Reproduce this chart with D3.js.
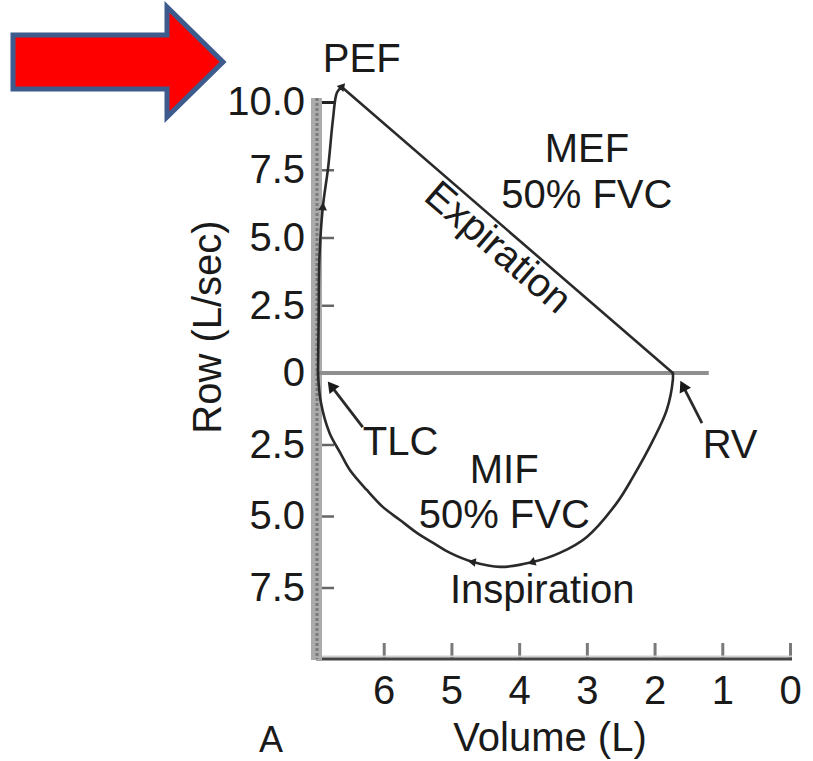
<!DOCTYPE html>
<html>
<head>
<meta charset="utf-8">
<script src="https://cdn.jsdelivr.net/npm/d3@7/dist/d3.min.js"></script>
<style>
  html, body { margin: 0; padding: 0; background: #ffffff; }
  svg { display: block; }
  text { font-family: "Liberation Sans", Arial, Helvetica, sans-serif; fill: #1a1a1a; }
</style>
</head>
<body>
<svg id="chart" width="813" height="761"></svg>
<script>
// ---------------- data ----------------
const xTicks = [6, 5, 4, 3, 2, 1, 0];
const yTicks = [10, 7.5, 5, 2.5, 0, -2.5, -5, -7.5];
const yTickLabels = ["10.0", "7.5", "5.0", "2.5", "0", "2.5", "5.0", "7.5"];

// expiration: rising limb from TLC to PEF (volume L, flow L/sec)
const expRiseX = [6.97, 6.96, 6.95, 6.90, 6.82, 6.75, 6.69, 6.62];
const expRiseY = [0, 2.2, 4.2, 6.1, 7.6, 9.35, 10.35, 10.55];
// expiration: falling limb PEF -> RV
const expFallX = [6.62, 1.73];
const expFallY = [10.55, 0];
// inspiration (drawn TLC -> RV)
const inspX = [6.97, 6.93, 6.80, 6.64, 6.50, 6.25, 6.01, 5.76, 5.51, 5.27, 5.02, 4.68, 4.28, 3.80, 3.40, 3.00, 2.56, 2.32, 2.02, 1.82, 1.73, 1.73];
const inspY = [0, -1.0, -2.1, -2.8, -3.39, -4.09, -4.69, -5.14, -5.59, -5.94, -6.29, -6.61, -6.78, -6.61, -6.29, -5.73, -4.55, -3.64, -2.34, -1.29, -0.24, 0];

// ---------------- layout ----------------
const svg = d3.select("#chart");
const W = 813, H = 761;
svg.append("rect").attr("width", W).attr("height", H).attr("fill", "#ffffff");

const x = d3.scaleLinear().domain([7, 0]).range([316, 790]);
const y = d3.scaleLinear().domain([-10, 0, 10]).range([659, 373, 102]);

const FS = 40;

// ---------------- red arrow (decoration) ----------------
const arrowPts = [[13, 35], [167, 35], [167, 7], [223, 62], [167, 117], [167, 89], [13, 89]];
svg.append("path")
  .attr("d", d3.line()(arrowPts) + "Z")
  .attr("fill", "#ff0000")
  .attr("stroke", "#3d5b8c")
  .attr("stroke-width", 5)
  .attr("stroke-linejoin", "miter");

// ---------------- axes ----------------
const xAxis = d3.axisBottom(x).tickValues(xTicks).tickSizeInner(-16).tickSizeOuter(0).tickPadding(17)
  .tickFormat(d3.format("d"));
const gx = svg.append("g").attr("transform", `translate(0,${y(-10)})`).call(xAxis);
gx.select(".domain").remove();
gx.selectAll(".tick line").attr("stroke", "#7a7a7a").attr("stroke-width", 3);
gx.selectAll(".tick text").attr("font-size", FS).attr("fill", "#1a1a1a");
svg.append("line")
  .attr("x1", x(7)).attr("x2", x(0) + 2)
  .attr("y1", y(-10) - 2.5).attr("y2", y(-10) - 2.5)
  .attr("stroke", "#cfcfcf").attr("stroke-width", 2);
svg.append("line")
  .attr("x1", x(7)).attr("x2", x(0) + 2)
  .attr("y1", y(-10)).attr("y2", y(-10))
  .attr("stroke", "#444").attr("stroke-width", 3);

const yAxis = d3.axisLeft(y).tickValues(yTicks).tickSizeInner(-18).tickSizeOuter(0).tickPadding(11)
  .tickFormat((d, i) => yTickLabels[i]);
const gy = svg.append("g").attr("transform", `translate(${x(7)},0)`).call(yAxis);
gy.select(".domain").remove();
gy.selectAll(".tick line").attr("stroke", "#666").attr("stroke-width", 2.5);
gy.selectAll(".tick text").attr("font-size", FS).attr("fill", "#1a1a1a");
gy.selectAll(".tick").filter(d => d === 10).select("line")
  .attr("stroke", "#222").attr("stroke-width", 3).attr("x2", 20);
gy.selectAll(".tick").filter(d => d === 0).select("line").remove();

// thick gray y-axis band
svg.append("rect")
  .attr("x", x(7) - 5).attr("y", y(10) - 4)
  .attr("width", 11).attr("height", y(-10) - y(10) + 5)
  .attr("fill", "#ababab");
svg.append("line")
  .attr("x1", x(7) + 1).attr("x2", x(7) + 1)
  .attr("y1", y(10) - 4).attr("y2", y(-10))
  .attr("stroke", "#7a7a7a").attr("stroke-width", 3).attr("stroke-dasharray", "3,2");

// zero line
svg.append("line")
  .attr("x1", x(7)).attr("x2", x(1.2))
  .attr("y1", y(0)).attr("y2", y(0))
  .attr("stroke", "#8f8f8f").attr("stroke-width", 4);

// ---------------- curves ----------------
const zip = (xs, ys) => xs.map((v, i) => [v, ys[i]]);
const smooth = d3.line().x(d => x(d[0])).y(d => y(d[1])).curve(d3.curveCatmullRom.alpha(0.5));
const straight = d3.line().x(d => x(d[0])).y(d => y(d[1]));

const curveStyle = sel => sel.attr("fill", "none").attr("stroke", "#2a2a2a").attr("stroke-width", 2.6)
  .attr("stroke-linejoin", "round").attr("stroke-linecap", "round");

svg.append("path").attr("d", smooth(zip(expRiseX, expRiseY))).call(curveStyle);
svg.append("path").attr("d", straight(zip(expFallX, expFallY))).call(curveStyle);
svg.append("path").attr("d", smooth(zip(inspX, inspY))).call(curveStyle);

// small direction arrowheads along the loop
const tri = d3.symbol().type(d3.symbolTriangle).size(34);
function arrowHead(p, q) {
  const px = x(p[0]), py = y(p[1]), qx = x(q[0]), qy = y(q[1]);
  const ang = Math.atan2(qy - py, qx - px) * 180 / Math.PI + 90;
  svg.append("path").attr("d", tri())
    .attr("transform", `translate(${qx},${qy}) rotate(${ang})`)
    .attr("fill", "#222");
}
arrowHead([expRiseX[2], expRiseY[2]], [expRiseX[3], expRiseY[3]]);
arrowHead([expRiseX[6], expRiseY[6]], [expRiseX[7], expRiseY[7]]);
arrowHead([inspX[14], inspY[14]], [inspX[13], inspY[13]]);
arrowHead([inspX[12], inspY[12]], [inspX[11], inspY[11]]);

// pointer arrows for TLC and RV
function pointer(from, to) {
  const fx = x(from[0]), fy = y(from[1]), tx = x(to[0]), ty = y(to[1]);
  svg.append("line").attr("x1", fx).attr("y1", fy).attr("x2", tx).attr("y2", ty)
    .attr("stroke", "#2a2a2a").attr("stroke-width", 2.8);
  const ang = Math.atan2(ty - fy, tx - fx) * 180 / Math.PI + 90;
  svg.append("path").attr("d", d3.symbol().type(d3.symbolTriangle).size(70)())
    .attr("transform", `translate(${tx},${ty}) rotate(${ang})`)
    .attr("fill", "#1a1a1a");
}
pointer([6.31, -1.89], [6.76, -0.5]);
pointer([1.30, -1.75], [1.57, -0.5]);

// ---------------- labels ----------------
function label(t, vx, vy, anchor) {
  svg.append("text").attr("x", x(vx)).attr("y", y(vy))
    .attr("text-anchor", anchor || "middle").attr("font-size", FS).text(t);
}
label("PEF", 6.9, 11.1, "start");
label("MEF", 3.0, 7.79);
label("50% FVC", 3.0, 6.09);
label("MIF", 4.22, -3.85);
label("50% FVC", 4.22, -5.42);
label("Inspiration", 3.66, -8.04);
label("TLC", 6.31, -2.87, "start");
label("RV", 1.29, -2.97, "start");

// Expiration text along the falling limb
{
  const x0 = x(expFallX[0]), y0 = y(expFallY[0]), x1 = x(expFallX[1]), y1 = y(expFallY[1]);
  const t = 0.51;
  const mx = x0 + (x1 - x0) * t, my = y0 + (y1 - y0) * t;
  const ang = Math.atan2(y1 - y0, x1 - x0) * 180 / Math.PI;
  svg.append("text")
    .attr("transform", `translate(${mx},${my}) rotate(${ang})`)
    .attr("x", 0).attr("y", 32)
    .attr("text-anchor", "middle").attr("font-size", FS).text("Expiration");
}

// axis titles
svg.append("text").attr("x", 550).attr("y", 751).attr("text-anchor", "middle")
  .attr("font-size", FS).text("Volume (L)");
svg.append("text").attr("transform", "translate(221,327) rotate(-90)")
  .attr("text-anchor", "middle").attr("font-size", FS).text("Row (L/sec)");
svg.append("text").attr("x", 259).attr("y", 752).attr("font-size", 36).text("A");
</script>
</body>
</html>
